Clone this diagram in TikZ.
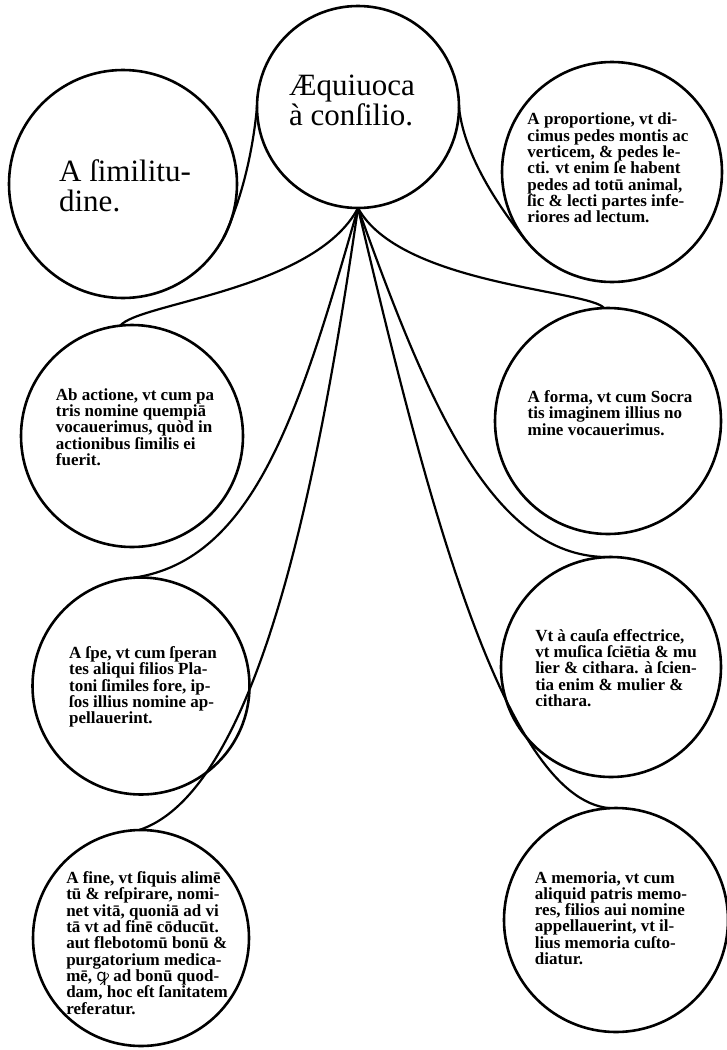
\documentclass[tikz,border=0pt]{standalone}
\usepackage{fontspec}
\setmainfont{Liberation Serif}
\newfontfamily\notosans{Noto Sans}
\begin{document}
\begin{tikzpicture}[x=1pt,y=1pt,
  circ/.style={draw, circle, line width=2.6pt, inner sep=0pt, outer sep=0pt, minimum size=#1},
  link/.style={line width=2.2pt},
  bigtext/.style={align=left, inner sep=0pt, font=\fontsize{31}{30}\selectfont},
  smalltext/.style={align=left, inner sep=0pt, font=\fontsize{17}{16.3}\selectfont\bfseries}]
\useasboundingbox (0,0) rectangle (727,-1050);
\fill[white] (0,0) rectangle (727,-1050);
% circles
\node[circ=202pt] (T)  at (358,-107) {};
\node[circ=228pt] (TL) at (123,-184) {};
\node[circ=220pt] (TR) at (612,-172) {};
\node[circ=222pt] (ML) at (132,-436) {};
\node[circ=226pt] (MR) at (608,-421) {};
\node[circ=217pt] (LL) at (141,-686) {};
\node[circ=220pt] (LR) at (611,-667) {};
\node[circ=216pt] (BL) at (141,-938) {};
\node[circ=224pt] (BR) at (616,-920) {};
% texts
\node[bigtext] (tT) at (352,-100) {Æquiuoca\\à conſilio.};
\node[bigtext] (tTL) at (125,-186) {A ſimilitu-\\dine.};
\node[smalltext] (tTR) at (608,-168) {A proportione, vt di-\\cimus pedes montis ac\\verticem, \& pedes le-\\cti. vt enim ſe habent\\pedes ad totū animal,\\ſic \& lecti partes infe-\\riores ad lectum.};
\node[smalltext] (tML) at (135,-427) {Ab actione, vt cum pa\\tris nomine quempiā\\vocauerimus, quòd in\\actionibus ſimilis ei\\fuerit.};
\node[smalltext] (tMR) at (610,-413) {A forma, vt cum Socra\\tis imaginem illius no\\mine vocauerimus.};
\node[smalltext] (tLL) at (143,-687) {A ſpe, vt cum ſperan\\tes aliqui filios Pla-\\toni ſimiles fore, ip-\\ſos illius nomine ap-\\pellauerint.};
\node[smalltext] (tLR) at (616,-668) {Vt à cauſa effectrice,\\vt muſica ſciētia \& mu\\lier \& cithara. à ſcien-\\tia enim \& mulier \&\\cithara.};
\node[smalltext] (tBL) at (147,-943) {A fine, vt ſiquis alimē\\tū \& reſpirare, nomi-\\net vitā, quoniā ad vi\\tā vt ad finē cōducūt.\\aut flebotomū bonū \&\\purgatorium medica-\\mē, {\notosans ꝙ} ad bonū quod-\\dam, hoc eſt ſanitatem\\referatur.};
\node[smalltext] (tBR) at (611,-918) {A memoria, vt cum\\aliquid patris memo-\\res, filios aui nomine\\appellauerint, vt il-\\lius memoria cuſto-\\diatur.};
% connectors
\draw[link] (T.west) .. controls (252,-160) and (239,-205) .. (TL.-28);
\draw[link] (T.east) .. controls (464,-160) and (508,-219) .. (TR.220);
\draw[link] (T.south) .. controls (315,-290) and (138,-303) .. (ML.96);
\draw[link] (T.south) .. controls (400,-285) and (590,-290) .. (MR.92);
\draw[link] (T.south) .. controls (300,-410) and (255,-560) .. (LL.94);
\draw[link] (T.south) .. controls (320,-470) and (260,-790) .. (BL.91);
\draw[link] (T.south) .. controls (430,-410) and (495,-560) .. (LR.90);
\draw[link] (T.south) .. controls (420,-470) and (500,-800) .. (BR.93);
\end{tikzpicture}
\end{document}
